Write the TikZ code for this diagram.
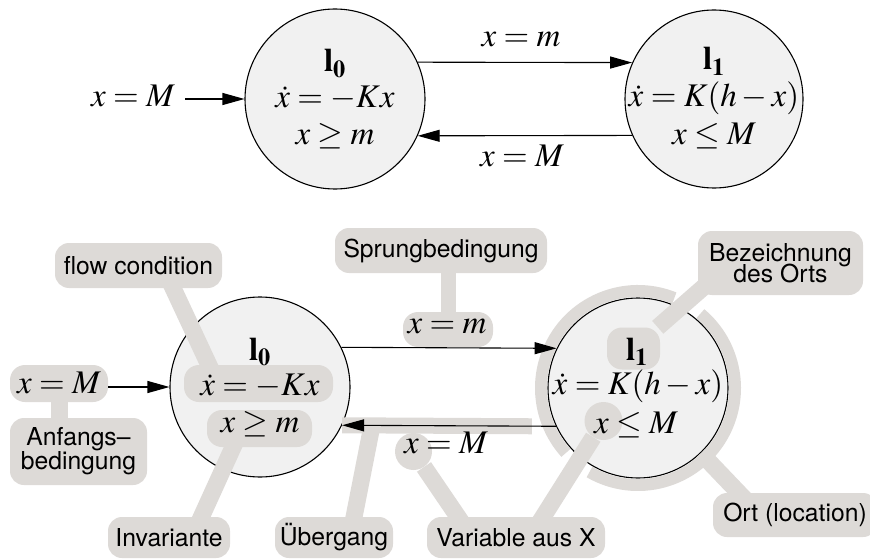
\documentclass[tikz,border=0pt]{standalone}
\usepackage{mathptmx}
\usepackage[no-math]{fontspec}
\setsansfont{TeX Gyre Heros}
\usetikzlibrary{arrows.meta,positioning}
\definecolor{locfill}{HTML}{F1F1F1}
\definecolor{tagbg}{HTML}{DDDAD7}
\pgfdeclarelayer{locs}
\pgfdeclarelayer{bands}
\pgfsetlayers{locs,bands,main}

\begin{document}
\begin{tikzpicture}[x=1pt,y=-1pt,
  loc/.style={circle,draw=black,fill=locfill,line width=1.1pt,minimum size=180pt,inner sep=0pt},
  mtext/.style={anchor=base,inner sep=0pt,font=\fontsize{33}{37}\selectfont},
  trans/.style={-{Triangle[length=22pt,width=12pt]},line width=1.1pt},
  tag/.style={fill=tagbg,rounded corners=14pt,inner sep=0pt,align=center,
    font=\fontsize{24.7}{24}\selectfont\sffamily},
  hl/.style={fill=tagbg,rounded corners=15pt,inner sep=0pt},
  hlx/.style={circle,fill=tagbg,inner sep=0pt,minimum size=37pt},
  tagline/.style={draw=tagbg,line width=17pt}]
\useasboundingbox (0,0) rectangle (870,559);

\begin{pgfonlayer}{locs}
\node[loc] (l0) at (335,99) {};
\node[loc,minimum size=178pt] (l1) at (714,99) {};
\node[loc] (bl0) at (260,387) {};
\node[loc] (bl1) at (638,388) {};
\end{pgfonlayer}

\node[mtext] (inM) at (133,107) {$x=M$};
\node[mtext] (l0name) at (335,72) {$\mathbf{l_0}$};
\node[mtext] (l0flow) at (335,108) {$\dot x=-Kx$};
\node[mtext] (l0inv) at (335,145) {$x\geq m$};
\node[mtext] (l1name) at (714,70) {$\mathbf{l_1}$};
\node[mtext] (l1flow) at (714,107) {$\dot x=K(h-x)$};
\node[mtext] (l1inv) at (714,145) {$x\leq M$};
\node[mtext] (jm) at (521,47) {$x=m$};
\node[mtext] (jM) at (522,167) {$x=M$};
\draw[trans,shorten <=10pt] (inM.east |- l0) -- (l0.west);
\draw[trans] (l0.24) -- (l1.156);
\draw[trans] (l1.204) -- (l0.336);

\node[hl,minimum width=98pt,minimum height=37pt] (hlin) at (59,383.5) {};
\node[tag,minimum width=137pt,minimum height=67pt] (taganf) at (78.5,451.5) {Anfangs–\\bedingung};
\node[tag,minimum width=167pt,minimum height=45pt] (tagflow) at (138.5,265.5) {flow condition};
\node[hl,minimum width=149pt,minimum height=37pt] (hlflow) at (258.5,383.5) {};
\node[hl,minimum width=105pt,minimum height=37pt] (hlinv) at (259.5,428.5) {};
\node[tag,minimum width=122pt,minimum height=41pt] (taginv) at (169,537.5) {Invariante};
\node[tag,minimum width=118pt,minimum height=41pt] (tagueb) at (334,537.5) {Übergang};
\node[tag,minimum width=212pt,minimum height=45pt] (tagsprung) at (441,250.5) {Sprungbedingung};
\node[hl,minimum width=90pt,minimum height=35pt] (hlsprung) at (448,329.5) {};
\node[hlx] (hlvarA) at (413.5,451.5) {};
\node[hlx,minimum size=38pt] (hlvarB) at (603.5,421) {};
\node[tag,minimum width=178pt,minimum height=41pt] (tagvar) at (516,537.5) {Variable aus X};
\node[hl,minimum width=53pt,minimum height=42pt] (hlname) at (633.5,348.5) {};
\node[tag,minimum width=165pt,minimum height=64pt] (tagbez) at (780.5,263) {Bezeichnung\\[-3pt]des Orts};
\node[tag,minimum width=164pt,minimum height=44pt] (tagort) at (795,515) {Ort (location)};

\begin{pgfonlayer}{bands}
\draw[tagline,line width=12pt] (bl1.center) ++(-68:97) arc[start angle=-68,end angle=-222,radius=97];
\draw[tagline,line width=12pt] (bl1.center) ++(-240:97) arc[start angle=-240,end angle=-410,radius=97];
\draw[tagline] (hlin) -- (hlin |- taganf);
\draw[tagline] ([xshift=24pt]tagflow.center) -- ([xshift=-41pt]hlflow.center);
\draw[tagline] ([xshift=23pt]taginv.center) -- ([xshift=-18pt]hlinv.center);
\draw[tagline] ([xshift=16pt]tagueb.center) -- ([xshift=30pt]bl0.335);
\draw[tagline,line width=16pt] (bl0.335) -- ([xshift=-24pt]bl1.205);
\draw[tagline,line width=15pt] (hlsprung) -- (hlsprung |- tagsprung);
\draw[tagline] (hlvarA) -- ([xshift=-44pt]tagvar.center);
\draw[tagline] (hlvarB) -- ([xshift=14pt]tagvar.center);
\draw[tagline] (hlname) -- ([xshift=-55pt,yshift=-5pt]tagbez.center);
\draw[tagline] (bl1.-46) -- ([xshift=-35pt]tagort.center);
\end{pgfonlayer}

\draw[trans] (hlin.east |- bl0) -- (bl0.west);
\draw[trans] (bl0.26) -- (bl1.154);
\draw[trans] (bl1.205) -- (bl0.335);

\node[mtext] (binM) at (59,393) {$x=M$};
\node[mtext] (bl0name) at (260,360) {$\mathbf{l_0}$};
\node[mtext] (bl0flow) at (260,395) {$\dot x=-Kx$};
\node[mtext] (bl0inv) at (260,432) {$x\geq m$};
\node[mtext] (bl1name) at (637,360) {$\mathbf{l_1}$};
\node[mtext] (bl1flow) at (638,394) {$\dot x=K(h-x)$};
\node[mtext] (bl1inv) at (636,433) {$x\leq M$};
\node[mtext] (bjm) at (447,333) {$x=m$};
\node[mtext] (bjM) at (446,453) {$x=M$};
\end{tikzpicture}
\end{document}
